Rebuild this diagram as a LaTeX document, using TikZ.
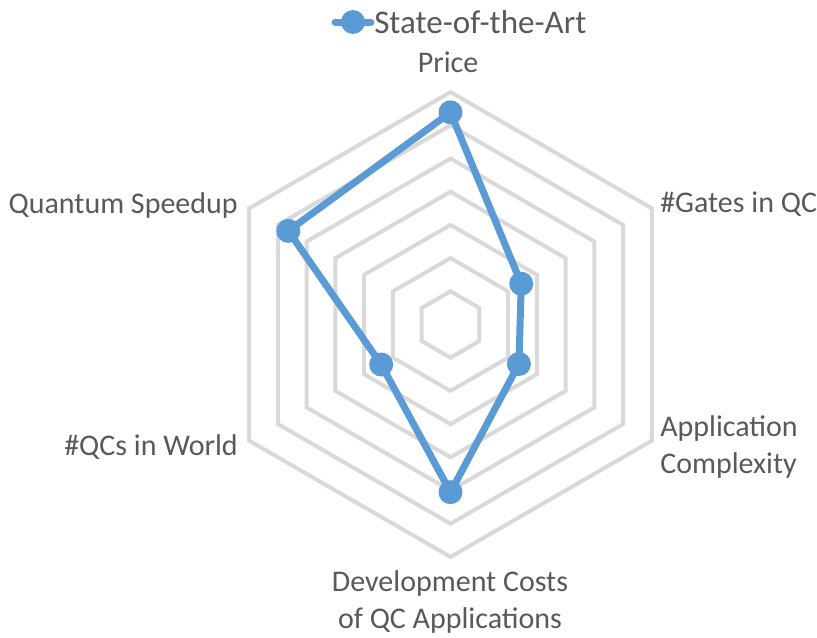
\documentclass[tikz,border=0pt]{standalone}
\usepackage{fontspec}
\setmainfont{Carlito}
\definecolor{seriesblue}{HTML}{5B9BD5}
\definecolor{gridgray}{HTML}{D9D9D9}
\definecolor{labelgray}{HTML}{595959}
\newcommand{\ringstep}{33.2}
\tikzset{
    ring/.style={draw=gridgray, line width=3pt, line join=miter},
    seriesline/.style={draw=seriesblue, line width=5.25pt, line join=round, line cap=round},
    marker/.style={circle, fill=seriesblue, inner sep=0pt, minimum size=18pt},
    axislabel/.style={text=labelgray, font=\fontsize{22.5}{27.75}\selectfont, align=center, inner sep=0pt},
    legendlabel/.style={text=labelgray, font=\fontsize{24.8}{30}\selectfont, inner sep=0pt}
}
\begin{document}
\begin{tikzpicture}[x=0.75pt, y=0.75pt]
            \useasboundingbox (-450.5,-312.5) rectangle (366.5,324.5);
            % grid rings
            \foreach \k in {1,...,7}
                \draw[ring] (90:\k*\ringstep) -- (30:\k*\ringstep) -- (-30:\k*\ringstep)
                    -- (-90:\k*\ringstep) -- (-150:\k*\ringstep) -- (150:\k*\ringstep) -- cycle;
            % data points
            \coordinate (price) at (90:6.39*\ringstep);
            \coordinate (gates) at (30:2.46*\ringstep);
            \coordinate (complexity) at (-30:2.38*\ringstep);
            \coordinate (devcosts) at (-90:5.05*\ringstep);
            \coordinate (qcs) at (-150:2.41*\ringstep);
            \coordinate (speedup) at (150:5.64*\ringstep);
            \draw[seriesline] (price) -- (gates) -- (complexity) -- (devcosts) -- (qcs) -- (speedup) -- cycle;
            \foreach \p in {price,gates,complexity,devcosts,qcs,speedup}
                \node[marker] (m-\p) at (\p) {};
            % axis labels
            \node[axislabel, anchor=base] (l-price) at (-2.5,252.5) {Price};
            \node[axislabel, anchor=base west] (l-gates) at (209.5,112.5) {\#Gates in QC};
            \node[axislabel, anchor=base west, align=left] (l-complexity) at (209.5,-148.5) {Application\\Complexity};
            \node[axislabel, anchor=base] (l-devcosts) at (-0.5,-304) {Development Costs\\of QC Applications};
            \node[axislabel, anchor=base east] (l-qcs) at (-212.5,-130.5) {\#QCs in World};
            \node[axislabel, anchor=base east] (l-speedup) at (-212.5,111.5) {Quantum Speedup};
            % legend
            \coordinate (leg-a) at (-115.5,302.5);
            \coordinate (leg-b) at (-79.5,302.5);
            \draw[seriesline] (leg-a) -- (leg-b);
            \node[marker] (leg-mark) at (-97.5,302.5) {};
            \node[legendlabel, anchor=base west] (leg-text) at (-76.5,291.5) {State-of-the-Art};
        \end{tikzpicture}
\end{document}
